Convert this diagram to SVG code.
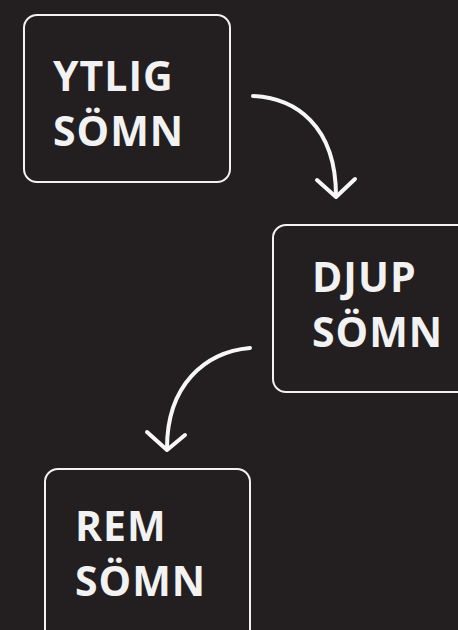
<svg xmlns="http://www.w3.org/2000/svg" width="458" height="630" viewBox="0 0 458 630">
<defs>
<style>
.box{fill:#231f20;stroke:#f2f2f2;stroke-width:2}
.lbl{font-family:"Open Sans",sans-serif;font-weight:700;font-size:41px;fill:#f2f2f2;letter-spacing:1px}
.con{fill:none;stroke:#f7f7f7;stroke-width:4;stroke-linecap:round;stroke-linejoin:round}
</style>
</defs>
<rect width="458" height="630" fill="#231f20"/>
<g id="node-ytlig">
<rect class="box" x="24" y="15" width="206" height="167" rx="13"/>
<text class="lbl" x="53" y="91">YTLIG</text>
<text class="lbl" x="53" y="146">SÖMN</text>
</g>
<g id="node-djup">
<rect class="box" x="273" y="225" width="200" height="167" rx="13"/>
<text class="lbl" x="312" y="292">DJUP</text>
<text class="lbl" x="312" y="347">SÖMN</text>
</g>
<g id="node-rem">
<rect class="box" x="45" y="469" width="205" height="180" rx="13"/>
<text class="lbl" x="75" y="541">REM</text>
<text class="lbl" x="75" y="596">SÖMN</text>
</g>
<g id="connectors">
<path class="con" d="M253,96 C295,98 336,125 336,196"/>
<path class="con" d="M317,180 L336,197 L355,179"/>
<path class="con" d="M250,348 C205,352 167,385 167,448"/>
<path class="con" d="M147,432 L167,450 L185,435"/>
</g>
</svg>
